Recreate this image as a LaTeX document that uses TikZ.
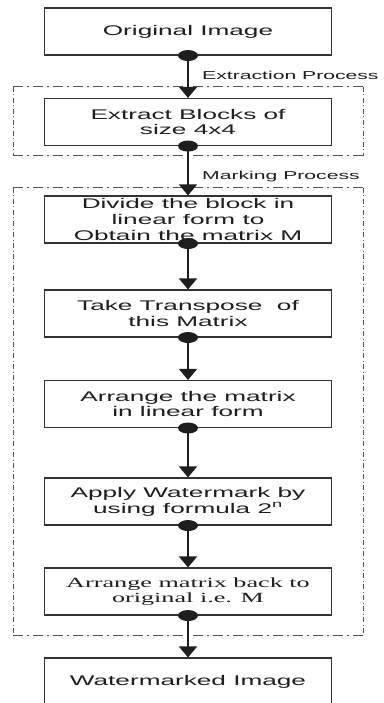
\documentclass[tikz,border=0pt]{standalone}
\usepackage{fontspec}
\usetikzlibrary{arrows.meta}
\newfontfamily\boxfont[FakeStretch=1.87]{Liberation Sans}
\newfontfamily\boxserif[FakeStretch=1.87]{Liberation Serif}
\newfontfamily\lblfont[FakeStretch=1.84]{Liberation Sans}
\definecolor{ink}{HTML}{1E1E1E}
\definecolor{frame}{HTML}{333333}
\tikzset{
  procbox/.style={draw=frame, line width=1.1pt, minimum width=287pt, minimum height=47pt,
    inner sep=0pt, align=center, text=ink, font=\boxfont\fontsize{14}{15.8}\selectfont},
  flow/.style={draw=ink, line width=1.5pt, -{Triangle[width=18pt,length=11pt]}},
  hdash/.style={draw=frame!85, line width=1pt, dash pattern=on 10pt off 4pt on 2pt off 4pt},
  vdash/.style={draw=frame!85, line width=1pt, dash pattern=on 5pt off 2.5pt on 1pt off 2.5pt},
  lbl/.style={anchor=west, inner sep=0pt, text=ink, font=\lblfont\fontsize{11.5}{13}\selectfont}
}
\begin{document}
\begin{tikzpicture}[x=1pt,y=1pt]
\useasboundingbox (0,0) rectangle (383,-703);
\fill[white] (0,0) rectangle (383,-703);
% dashed frames
\draw[hdash] (13,-87) -- (363,-87);
\draw[hdash] (13,-156) -- (363,-156);
\draw[vdash] (13,-87) -- (13,-156);
\draw[vdash] (363,-87) -- (363,-156);
\draw[hdash] (13,-188) -- (363,-188);
\draw[hdash] (13,-635) -- (363,-635);
\draw[vdash] (13,-188) -- (13,-635);
\draw[vdash] (363,-188) -- (363,-635);
% boxes
\node[procbox] (b1) at (188,-31.5) {Original Image};
\node[procbox] (b2) at (188,-122) {Extract Blocks of\\size 4x4};
\node[procbox] (b3) at (188,-219.5) {Divide the block in\\linear form to\\Obtain the matrix M};
\node[procbox] (b4) at (188,-313.5) {Take Transpose\ \ of\\this Matrix};
\node[procbox] (b5) at (188,-404) {Arrange the matrix\\in linear form};
\node[procbox] (b6) at (188,-501.5) {Apply Watermark by\\using formula 2\textsuperscript{n}};
\node[procbox, font=\boxserif\fontsize{14}{15.3}\selectfont] (b7) at (188,-591.5) {Arrange matrix back to\\original i.e. M};
\node[procbox] (b8) at (188,-681.5) {Watermarked Image};
% labels
\node[lbl] (l1) at (202,-75) {Extraction Process};
\node[lbl] (l2) at (202,-177) {Marking Process};
% connectors
\foreach \a/\b in {b1/b2,b2/b3,b3/b4,b4/b5,b5/b6,b6/b7,b7/b8}{
  \draw[flow] (\a.south) -- (\b.north);
  \fill[ink] (\a.south) ellipse [x radius=10pt, y radius=5.5pt];
}
\end{tikzpicture}
\end{document}
